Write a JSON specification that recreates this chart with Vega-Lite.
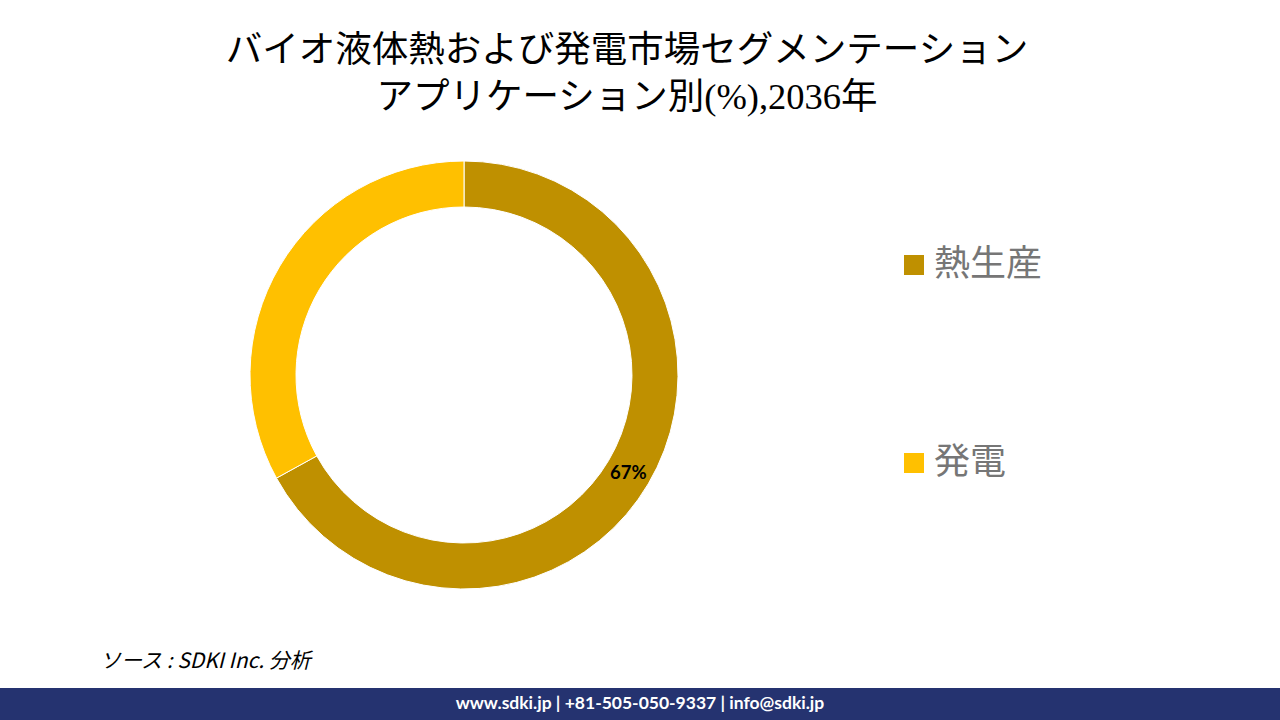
{
  "$schema": "https://vega.github.io/schema/vega-lite/v6.json",
  "padding": {"top": 33, "left": 0, "right": 0, "bottom": 0},
  "background": "white",
  "spacing": 0,
  "title": {
    "text": ["バイオ液体熱および発電市場セグメンテーション", "アプリケーション別(%),2036年"],
    "font": "Liberation Serif, Noto Sans CJK JP",
    "fontSize": 36.5,
    "fontWeight": "normal",
    "color": "#000000",
    "lineHeight": 47,
    "anchor": "middle",
    "dx": -13,
    "offset": -2.5
  },
  "config": {"view": {"stroke": null}},
  "vconcat": [
    {
      "width": 928,
      "height": 522,
      "data": {"values": [
        {"category": "熱生産", "share": 0.67},
        {"category": "発電", "share": 0.33}
      ]},
      "encoding": {
        "theta": {"field": "share", "type": "quantitative", "stack": true},
        "order": {"field": "category", "type": "nominal", "sort": "ascending"},
        "color": {
          "field": "category",
          "type": "nominal",
          "scale": {"domain": ["熱生産", "発電"], "range": ["#BF9000", "#FFC000"]},
          "legend": {
            "title": null,
            "orient": "none",
            "legendX": 896,
            "legendY": 133,
            "padding": 0,
            "symbolType": "square",
            "symbolSize": 400,
            "symbolStrokeWidth": 0,
            "labelFont": "Noto Sans CJK JP",
            "labelFontSize": 36,
            "labelColor": "#767676",
            "labelOffset": 2,
            "rowPadding": 162
          }
        }
      },
      "layer": [
        {"mark": {"type": "arc", "outerRadius": 214, "innerRadius": 168, "stroke": "white", "strokeWidth": 1}},
        {
          "mark": {"type": "text", "radius": 191, "dy": 1, "font": "Lato", "fontWeight": "bold", "fontSize": 18.5},
          "encoding": {
            "text": {"field": "share", "type": "quantitative", "format": ".0%"},
            "color": {"value": "#000000"},
            "opacity": {"condition": {"test": "datum.category === '発電'", "value": 0}, "value": 1}
          }
        }
      ]
    },
    {
      "width": 200,
      "height": 52,
      "data": {"values": [{}]},
      "mark": {"type": "text", "text": "ソース : SDKI Inc. 分析", "align": "left", "baseline": "middle", "font": "Noto Sans CJK JP", "fontStyle": "italic", "fontSize": 21, "color": "#000000"},
      "encoding": {}
    },
    {
      "width": 1280,
      "height": 32,
      "view": {"fill": "#253370", "stroke": null},
      "data": {"values": [{}]},
      "mark": {"type": "text", "text": "www.sdki.jp | +81-505-050-9337 | info@sdki.jp", "font": "Lato", "fontWeight": "bold", "fontSize": 17.5, "color": "#FFFFFF", "align": "center", "baseline": "middle"},
      "encoding": {}
    }
  ]
}
